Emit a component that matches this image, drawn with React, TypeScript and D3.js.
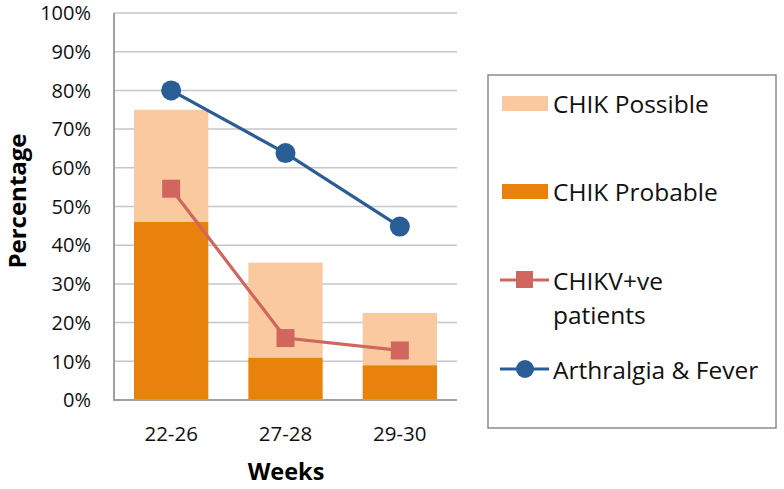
import React from "react";
import * as d3 from "d3";

const categories = ["22-26", "27-28", "29-30"];
const chikProbable = [46, 11, 9];
const chikPossible = [29, 24.5, 13.5];
const chikvPositive = [54.6, 16, 12.8];
const arthralgiaFever = [80, 63.8, 44.8];
const yTicks = [0, 10, 20, 30, 40, 50, 60, 70, 80, 90, 100];

const FONT = "'Open Sans', sans-serif";
const C_POSSIBLE = "#FAC9A0";
const C_PROBABLE = "#E8820C";
const C_CHIKV = "#D0665E";
const C_ARTH = "#2A5D95";

export default function App() {
  const W = 784, H = 489;
  const x = d3.scaleBand<string>().domain(categories).range([114, 457]).paddingInner(0.35).paddingOuter(0.175);
  const y = d3.scaleLinear().domain([0, 100]).range([400, 13]);

  const table = categories.map((c, i) => ({ cat: c, probable: chikProbable[i], possible: chikPossible[i] }));
  const stacked = d3.stack<any>().keys(["probable", "possible"])(table);
  const colors: Record<string, string> = { probable: C_PROBABLE, possible: C_POSSIBLE };

  const cx = (c: string) => (x(c) as number) + x.bandwidth() / 2;
  const line = d3.line<number>().x((_, i) => cx(categories[i])).y((d) => y(d));
  const LF = 24.5;

  return (
    <svg width={W} height={H} style={{ position: "absolute", left: 0, top: 0, background: "#fff" }} fontFamily={FONT}>
      {yTicks.map((t) => (
        <line key={t} x1={114} x2={457} y1={y(t)} y2={y(t)} stroke="#C6C6C6" strokeWidth={1.5} />
      ))}
      {yTicks.map((t) => (
        <text key={"l" + t} x={91} y={y(t)} dy="0.36em" textAnchor="end" fontSize={20} fill="#111">
          {t + "%"}
        </text>
      ))}
      {stacked.map((s) => (
        <g key={s.key} fill={colors[s.key]}>
          {s.map((d, i) => (
            <rect key={i} x={x(categories[i])} width={x.bandwidth()} y={y(d[1])} height={y(d[0]) - y(d[1])} />
          ))}
        </g>
      ))}
      <line x1={114} x2={114} y1={13} y2={401} stroke="#A0A0A0" strokeWidth={2} />
      <line x1={113} x2={457} y1={400} y2={400} stroke="#A0A0A0" strokeWidth={2} />
      {categories.map((c) => (
        <text key={c} x={cx(c)} y={441} textAnchor="middle" fontSize={20.5} fill="#111">
          {c}
        </text>
      ))}
      <text x={286} y={480} textAnchor="middle" fontSize={23.5} fontWeight="bold" fill="#000">Weeks</text>
      <text transform="translate(26,201) rotate(-90)" textAnchor="middle" fontSize={24} fontWeight="bold" fill="#000">Percentage</text>
      <path d={line(chikvPositive) || ""} fill="none" stroke={C_CHIKV} strokeWidth={3.2} />
      {chikvPositive.map((v, i) => (
        <rect key={i} x={cx(categories[i]) - 9} y={y(v) - 9} width={18} height={18} fill={C_CHIKV} />
      ))}
      <path d={line(arthralgiaFever) || ""} fill="none" stroke={C_ARTH} strokeWidth={3.2} />
      {arthralgiaFever.map((v, i) => (
        <circle key={i} cx={cx(categories[i])} cy={y(v)} r={10} fill={C_ARTH} />
      ))}
      <rect x={488} y={75} width={288} height={353} fill="#fff" stroke="#8C8C8C" strokeWidth={1.5} />
      <rect x={502} y={96} width={46} height={15} fill={C_POSSIBLE} />
      <text x={553} y={104} dy="0.36em" fontSize={LF} fill="#111">CHIK Possible</text>
      <rect x={502} y={184} width={46} height={15} fill={C_PROBABLE} />
      <text x={553} y={192} dy="0.36em" fontSize={LF} fill="#111">CHIK Probable</text>
      <line x1={500} x2={549} y1={280} y2={280} stroke={C_CHIKV} strokeWidth={3} />
      <rect x={516} y={271} width={17} height={17} fill={C_CHIKV} />
      <text x={553} y={281} dy="0.36em" fontSize={LF} fill="#111">CHIKV+ve</text>
      <text x={553} y={315} dy="0.36em" fontSize={LF} fill="#111">patients</text>
      <line x1={500} x2={549} y1={369} y2={369} stroke={C_ARTH} strokeWidth={3} />
      <circle cx={525} cy={369} r={9} fill={C_ARTH} />
      <text x={553} y={370} dy="0.36em" fontSize={LF} fill="#111">Arthralgia &amp; Fever</text>
    </svg>
  );
}
